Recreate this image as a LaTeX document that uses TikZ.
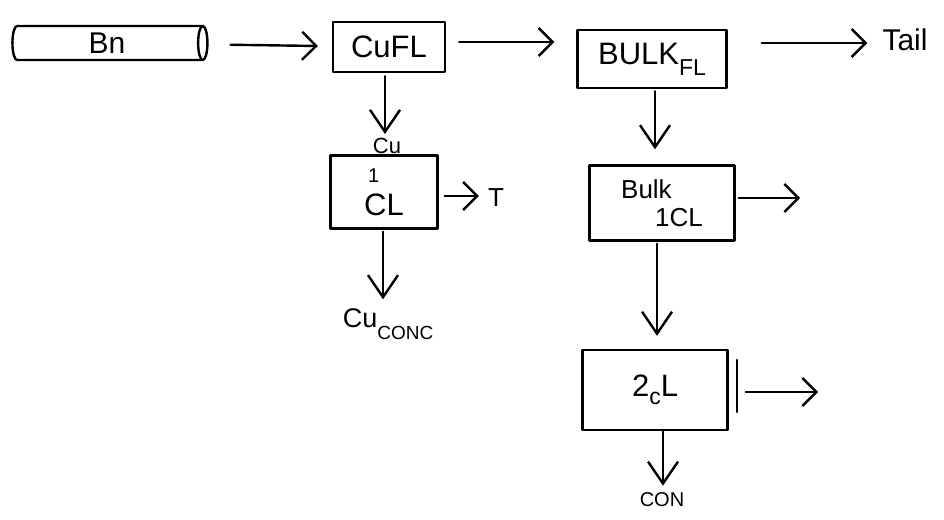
\documentclass[tikz,border=0pt]{standalone}
\usepackage{fontspec}
\setmainfont{Liberation Sans}
\usetikzlibrary{arrows.meta,shapes.geometric}
\begin{document}
\begin{tikzpicture}[x=1pt,y=-1pt,
  ink/.style={line width=2.4pt, line cap=round, line join=round},
  unit/.style={ink, draw, inner sep=0pt, font=\fontsize{31}{33}\selectfont},
  tag/.style={inner sep=1pt, font=\fontsize{30}{32}\selectfont},
  small/.style={inner sep=1pt, font=\fontsize{22}{24}\selectfont},
  hflow/.style={ink, -{Straight Barb[length=14pt,width=28pt,line width=2.4pt]}},
  vflow/.style={ink, -{Straight Barb[length=22pt,width=30pt,line width=2.4pt]}}
]
\useasboundingbox (0,0) rectangle (944,519);

% feed
\node[cylinder, ink, draw, shape aspect=0.45, minimum width=34pt, minimum height=195pt,
      inner sep=0pt, font=\fontsize{30}{32}\selectfont] (bn) at (107,43) {Bn};

% flotation and cleaner units
\node[unit, minimum width=112pt, minimum height=50pt] (cufl) at (389,47) {CuFL};
\node[unit, minimum width=149pt, minimum height=58pt] (bulkfl) at (652,59)
  {BULK\raisebox{-11pt}{\fontsize{23}{25}\selectfont FL}};
\node[unit, minimum width=107pt, minimum height=73pt, align=left] (cl) at (384,192)
  {\hspace{4pt}\fontsize{20}{16}\selectfont 1\\CL};
\node[unit, minimum width=145pt, minimum height=75pt, align=left,
      font=\fontsize{26}{28}\selectfont] (bulkcl) at (662,203)
  {Bulk\\\hspace{34pt}1CL};
\node[unit, minimum width=145pt, minimum height=80pt] (cl2) at (655,390)
  {2\raisebox{-8pt}{\fontsize{23}{25}\selectfont c}L};

% product streams
\node[tag] (tail) at (905,40) {Tail};
\node[small] (cu) at (387,146) {Cu};
\node[tag, font=\fontsize{26}{28}\selectfont] (t) at (496,198) {T};
\node[tag, font=\fontsize{27}{29}\selectfont] (cuconc) at (388,324)
  {Cu\raisebox{-12pt}{\fontsize{19}{20}\selectfont CONC}};
\node[small, font=\fontsize{20}{22}\selectfont] (con) at (662,500) {CON};
\coordinate (bulkclout) at (800,198);
\coordinate (cl2out) at (818,392);

% doubled edge beside the second cleaner
\draw[ink] ([shift={(8,-30)}]cl2.east) -- ([shift={(8,22)}]cl2.east);

% horizontal streams
\draw[hflow, shorten <=22pt, shorten >=14pt] (bn) -- (cufl);
\draw[hflow, shorten <=13pt, shorten >=22pt] (cufl.east |- 0,42) -- (bulkfl.west |- 0,42);
\draw[hflow, shorten <=34pt, shorten >=14pt] (bulkfl.east |- 0,43) -- (tail.west |- 0,43);
\draw[hflow, shorten <=6pt, shorten >=8pt] (cl.east |- 0,196) -- (t.west |- 0,196);
\draw[hflow, shorten <=3pt] (bulkcl.east |- 0,198) -- (bulkclout);
\draw[hflow, shorten <=17pt] (cl2.east |- 0,392) -- (cl2out);

% vertical streams
\draw[vflow, shorten <=3pt, shorten >=3pt] (cufl.south -| 385,0) -- (cu.north -| 385,0);
\draw[vflow, shorten <=2pt, shorten >=8pt] (cl.south -| 383,0) -- (cuconc.north -| 383,0);
\draw[vflow, shorten <=2pt, shorten >=15pt] (bulkfl.south -| 655,0) -- (bulkcl.north -| 655,0);
\draw[vflow, shorten <=2pt, shorten >=13pt] (bulkcl.south -| 657,0) -- (cl2.north -| 657,0);
\draw[vflow, shorten <=0pt, shorten >=6pt] (cl2.south -| 663,0) -- (con.north -| 663,0);
\end{tikzpicture}
\end{document}
